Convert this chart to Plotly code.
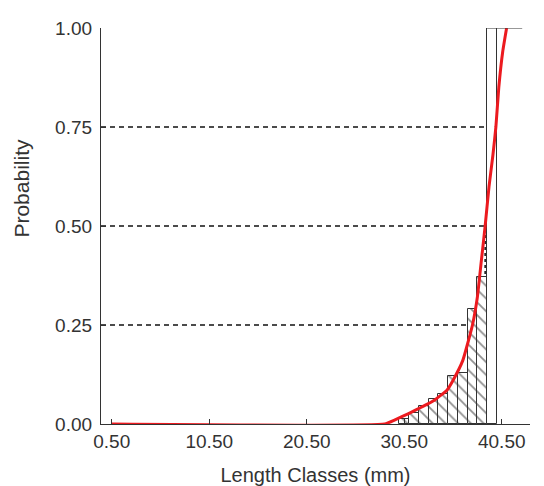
import plotly.graph_objects as go

# Length classes (bar centres, mm) and observed probability of capture
class_mid = [30.5, 31.5, 32.5, 33.5, 34.5, 35.5, 36.5, 37.5, 38.5, 39.5]
class_prob = [0.012, 0.028, 0.045, 0.063, 0.075, 0.12, 0.13, 0.29, 0.37, 1.0]
class_hatch = ["\\", "\\", "\\", "\\", "\\", "\\", "\\", "\\", "\\", ""]

# Fitted selection curve
curve_len = [0.5, 28.5, 29.5, 31.0, 32.3, 33.6, 34.9, 35.5, 36.5, 37.5,
             38.0, 38.4, 38.8, 39.2, 39.6, 39.9, 40.2, 40.6, 41.0]
curve_prob = [0.0, 0.0, 0.01, 0.027, 0.043, 0.06, 0.086, 0.11, 0.16, 0.25,
              0.32, 0.41, 0.5, 0.6, 0.68, 0.75, 0.85, 0.94, 1.0]

# L25, L50, L75
levels = [0.25, 0.50, 0.75]
level_len = [37.5, 38.8, 39.6]

x_ticks = [0.5, 10.5, 20.5, 30.5, 40.5]
y_ticks = [0.0, 0.25, 0.5, 0.75, 1.0]
x_range = [-0.6, 43.4]

FONT = "Liberation Sans, Arial, sans-serif"

fig = go.Figure()

fig.add_trace(go.Bar(
    x=class_mid, y=class_prob, width=1.0,
    marker=dict(color="white", line=dict(color="#333333", width=1),
                pattern=dict(shape=class_hatch, fgcolor="#222222", bgcolor="white",
                             size=9, solidity=0.2)),
    showlegend=False,
))

fig.add_trace(go.Scatter(
    x=curve_len, y=curve_prob, mode="lines",
    line=dict(color="#ec1a1f", width=3, shape="spline", smoothing=0.4),
    cliponaxis=False, showlegend=False,
))

shapes = []
for lv, ln in zip(levels, level_len):
    shapes.append(dict(type="line", xref="x", yref="y", x0=x_range[0], x1=ln, y0=lv, y1=lv,
                       line=dict(color="#111111", width=1.5, dash="5px,4px"), layer="below"))
    shapes.append(dict(type="line", xref="x", yref="y", x0=ln, x1=ln, y0=0, y1=lv,
                       line=dict(color="#111111", width=1.5, dash="dot"), layer="below"))
# top line of the last class continuing at probability 1
shapes.append(dict(type="line", xref="x", yref="y", x0=class_mid[-1] - 0.5, x1=42.6,
                   y0=class_prob[-1], y1=class_prob[-1],
                   line=dict(color="#333333", width=1.2)))

fig.update_layout(
    width=536, height=478,
    margin=dict(l=93, r=14, t=20, b=62),
    plot_bgcolor="white", paper_bgcolor="white",
    bargap=0, shapes=shapes,
    font=dict(family=FONT, size=19, color="#333333"),
    annotations=[dict(text="Probability", xref="paper", yref="paper",
                      x=-0.186, y=0.595, textangle=-90, showarrow=False,
                      xanchor="center", yanchor="middle",
                      font=dict(size=21, color="#333333"))],
)

fig.update_xaxes(
    range=x_range, tickvals=x_ticks, ticktext=[f"{v:.2f}" for v in x_ticks],
    ticks="inside", ticklen=5, tickcolor="#333333", automargin=False,
    showline=True, linecolor="#333333", linewidth=1.2,
    showgrid=False, zeroline=False,
    title=dict(text="Length Classes (mm)", font=dict(size=20), standoff=17),
)
fig.update_yaxes(
    range=[0, 1.0], tickvals=y_ticks, ticktext=[f"{v:.2f}" for v in y_ticks],
    ticks="inside", ticklen=5, tickcolor="#333333", automargin=False,
    showline=True, linecolor="#333333", linewidth=1.2,
    showgrid=False, zeroline=False, ticklabelstandoff=4,
)

fig.write_html("out.html")
